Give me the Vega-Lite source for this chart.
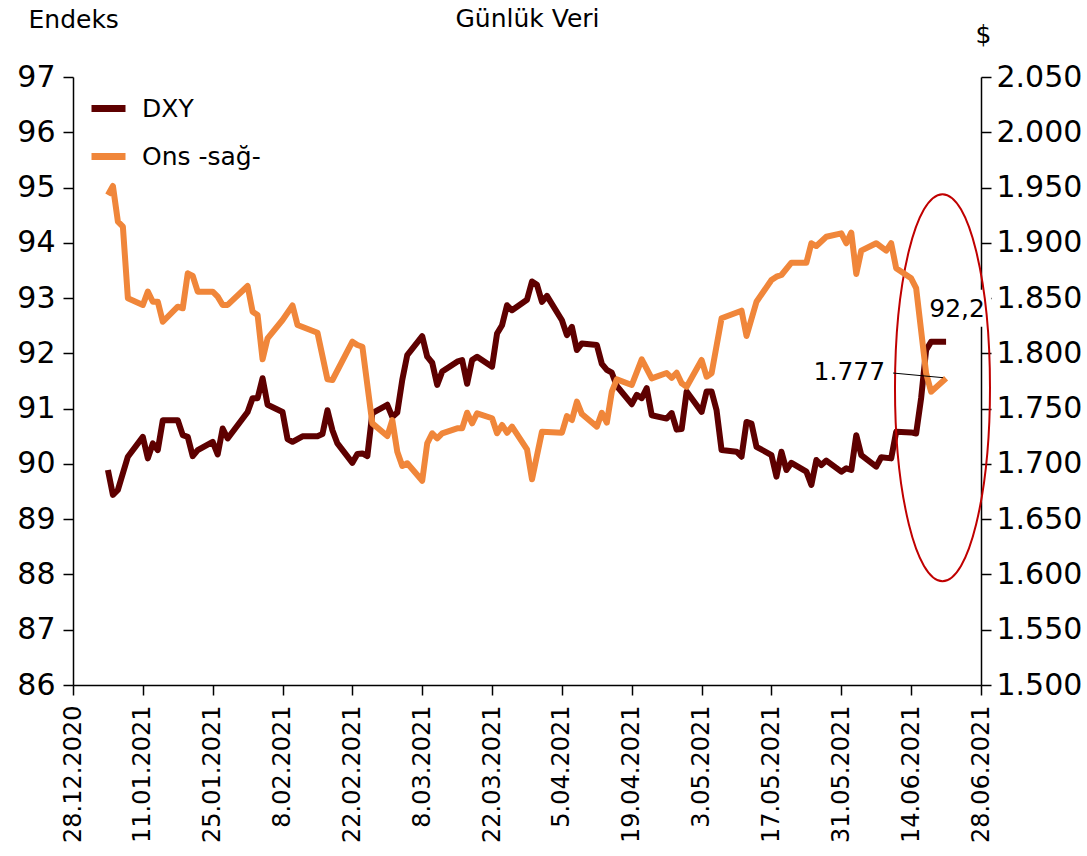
{
  "$schema": "https://vega.github.io/schema/vega-lite/v6.json",
  "width": 908,
  "height": 608,
  "autosize": {"type": "none"},
  "padding": {"left": 73, "top": 77, "right": 106, "bottom": 171},
  "background": "white",
  "config": {
    "view": {"stroke": null},
    "locale": {"number": {"decimal": ",", "thousands": ".", "grouping": [3], "currency": ["", ""]}},
    "font": "DejaVu Sans",
    "axis": {
      "grid": false,
      "domainColor": "black",
      "domainWidth": 1.5,
      "tickColor": "black",
      "tickWidth": 1.5,
      "tickSize": 10,
      "labelColor": "black",
      "labelFont": "DejaVu Sans",
      "titleFont": "DejaVu Sans",
      "titleFontWeight": "normal",
      "titleColor": "black"
    },
    "legend": {
      "orient": "none",
      "legendX": 15,
      "legendY": 11,
      "title": null,
      "symbolType": "stroke",
      "symbolSize": 1156,
      "symbolStrokeWidth": 7,
      "labelFont": "DejaVu Sans",
      "labelFontSize": 25,
      "labelColor": "black",
      "labelOffset": 13,
      "rowPadding": 13,
      "labelLimit": 400
    }
  },
  "datasets": {
    "dxy": [
      {"date": "2021-01-04T00:00", "v": 89.89},
      {"date": "2021-01-05T00:00", "v": 89.44},
      {"date": "2021-01-06T00:00", "v": 89.53},
      {"date": "2021-01-08T00:00", "v": 90.13},
      {"date": "2021-01-11T00:00", "v": 90.49},
      {"date": "2021-01-12T00:00", "v": 90.10},
      {"date": "2021-01-13T00:00", "v": 90.37},
      {"date": "2021-01-14T00:00", "v": 90.25},
      {"date": "2021-01-15T00:00", "v": 90.79},
      {"date": "2021-01-18T00:00", "v": 90.79},
      {"date": "2021-01-19T00:00", "v": 90.52},
      {"date": "2021-01-20T00:00", "v": 90.49},
      {"date": "2021-01-21T00:00", "v": 90.14},
      {"date": "2021-01-22T00:00", "v": 90.25},
      {"date": "2021-01-25T00:00", "v": 90.40},
      {"date": "2021-01-26T00:00", "v": 90.17},
      {"date": "2021-01-27T00:00", "v": 90.64},
      {"date": "2021-01-28T00:00", "v": 90.46},
      {"date": "2021-02-01T00:00", "v": 90.94},
      {"date": "2021-02-02T00:00", "v": 91.19},
      {"date": "2021-02-03T00:00", "v": 91.19},
      {"date": "2021-02-04T00:00", "v": 91.55},
      {"date": "2021-02-05T00:00", "v": 91.07},
      {"date": "2021-02-08T00:00", "v": 90.94},
      {"date": "2021-02-09T00:00", "v": 90.45},
      {"date": "2021-02-10T00:00", "v": 90.40},
      {"date": "2021-02-12T00:00", "v": 90.50},
      {"date": "2021-02-15T00:00", "v": 90.50},
      {"date": "2021-02-16T00:00", "v": 90.54},
      {"date": "2021-02-17T00:00", "v": 90.97},
      {"date": "2021-02-18T00:00", "v": 90.61},
      {"date": "2021-02-19T00:00", "v": 90.37},
      {"date": "2021-02-22T00:00", "v": 90.02},
      {"date": "2021-02-23T00:00", "v": 90.18},
      {"date": "2021-02-24T00:00", "v": 90.19},
      {"date": "2021-02-25T00:00", "v": 90.14},
      {"date": "2021-02-26T00:00", "v": 90.92},
      {"date": "2021-03-01T00:00", "v": 91.07},
      {"date": "2021-03-02T00:00", "v": 90.85},
      {"date": "2021-03-03T00:00", "v": 90.93},
      {"date": "2021-03-04T00:00", "v": 91.52},
      {"date": "2021-03-05T00:00", "v": 91.97},
      {"date": "2021-03-08T00:00", "v": 92.31},
      {"date": "2021-03-09T00:00", "v": 91.94},
      {"date": "2021-03-10T00:00", "v": 91.83},
      {"date": "2021-03-11T00:00", "v": 91.43},
      {"date": "2021-03-12T00:00", "v": 91.67},
      {"date": "2021-03-15T00:00", "v": 91.85},
      {"date": "2021-03-16T00:00", "v": 91.88},
      {"date": "2021-03-17T00:00", "v": 91.45},
      {"date": "2021-03-18T00:00", "v": 91.88},
      {"date": "2021-03-19T00:00", "v": 91.94},
      {"date": "2021-03-22T00:00", "v": 91.76},
      {"date": "2021-03-23T00:00", "v": 92.36},
      {"date": "2021-03-24T00:00", "v": 92.51},
      {"date": "2021-03-25T00:00", "v": 92.87},
      {"date": "2021-03-26T00:00", "v": 92.78},
      {"date": "2021-03-29T00:00", "v": 92.97},
      {"date": "2021-03-30T00:00", "v": 93.30},
      {"date": "2021-03-31T00:00", "v": 93.24},
      {"date": "2021-04-01T00:00", "v": 92.93},
      {"date": "2021-04-02T00:00", "v": 93.04},
      {"date": "2021-04-05T00:00", "v": 92.60},
      {"date": "2021-04-06T00:00", "v": 92.33},
      {"date": "2021-04-07T00:00", "v": 92.48},
      {"date": "2021-04-08T00:00", "v": 92.06},
      {"date": "2021-04-09T00:00", "v": 92.18},
      {"date": "2021-04-12T00:00", "v": 92.15},
      {"date": "2021-04-13T00:00", "v": 91.81},
      {"date": "2021-04-14T00:00", "v": 91.70},
      {"date": "2021-04-15T00:00", "v": 91.65},
      {"date": "2021-04-16T00:00", "v": 91.41},
      {"date": "2021-04-19T00:00", "v": 91.08},
      {"date": "2021-04-20T00:00", "v": 91.25},
      {"date": "2021-04-21T00:00", "v": 91.19},
      {"date": "2021-04-22T00:00", "v": 91.37},
      {"date": "2021-04-23T00:00", "v": 90.88},
      {"date": "2021-04-26T00:00", "v": 90.82},
      {"date": "2021-04-27T00:00", "v": 90.92},
      {"date": "2021-04-28T00:00", "v": 90.62},
      {"date": "2021-04-29T00:00", "v": 90.63},
      {"date": "2021-04-30T00:00", "v": 91.31},
      {"date": "2021-05-03T00:00", "v": 90.94},
      {"date": "2021-05-04T00:00", "v": 91.31},
      {"date": "2021-05-05T00:00", "v": 91.31},
      {"date": "2021-05-06T00:00", "v": 90.97},
      {"date": "2021-05-07T00:00", "v": 90.25},
      {"date": "2021-05-10T00:00", "v": 90.22},
      {"date": "2021-05-11T00:00", "v": 90.13},
      {"date": "2021-05-12T00:00", "v": 90.76},
      {"date": "2021-05-13T00:00", "v": 90.73},
      {"date": "2021-05-14T00:00", "v": 90.31},
      {"date": "2021-05-17T00:00", "v": 90.16},
      {"date": "2021-05-18T00:00", "v": 89.77},
      {"date": "2021-05-19T00:00", "v": 90.22},
      {"date": "2021-05-20T00:00", "v": 89.89},
      {"date": "2021-05-21T00:00", "v": 90.02},
      {"date": "2021-05-24T00:00", "v": 89.86},
      {"date": "2021-05-25T00:00", "v": 89.62},
      {"date": "2021-05-26T00:00", "v": 90.07},
      {"date": "2021-05-27T00:00", "v": 89.98},
      {"date": "2021-05-28T00:00", "v": 90.06},
      {"date": "2021-05-31T00:00", "v": 89.86},
      {"date": "2021-06-01T00:00", "v": 89.92},
      {"date": "2021-06-02T00:00", "v": 89.89},
      {"date": "2021-06-03T00:00", "v": 90.52},
      {"date": "2021-06-04T00:00", "v": 90.16},
      {"date": "2021-06-07T00:00", "v": 89.95},
      {"date": "2021-06-08T00:00", "v": 90.12},
      {"date": "2021-06-10T00:00", "v": 90.10},
      {"date": "2021-06-11T00:00", "v": 90.58},
      {"date": "2021-06-14T00:00", "v": 90.57},
      {"date": "2021-06-15T00:00", "v": 90.55},
      {"date": "2021-06-16T00:00", "v": 91.19},
      {"date": "2021-06-17T00:00", "v": 92.06},
      {"date": "2021-06-18T00:00", "v": 92.21},
      {"date": "2021-06-21T00:00", "v": 92.21}
    ],
    "ons": [
      {"date": "2021-01-04T00:00", "v": 1943.3},
      {"date": "2021-01-05T00:00", "v": 1951.4},
      {"date": "2021-01-06T00:00", "v": 1919.1},
      {"date": "2021-01-07T00:00", "v": 1914.6},
      {"date": "2021-01-08T00:00", "v": 1849.8},
      {"date": "2021-01-11T00:00", "v": 1843.8},
      {"date": "2021-01-12T00:00", "v": 1855.8},
      {"date": "2021-01-13T00:00", "v": 1846.7},
      {"date": "2021-01-14T00:00", "v": 1846.7},
      {"date": "2021-01-15T00:00", "v": 1828.6},
      {"date": "2021-01-18T00:00", "v": 1842.2},
      {"date": "2021-01-19T00:00", "v": 1840.8},
      {"date": "2021-01-20T00:00", "v": 1872.4},
      {"date": "2021-01-21T00:00", "v": 1870.0},
      {"date": "2021-01-22T00:00", "v": 1855.8},
      {"date": "2021-01-25T00:00", "v": 1855.8},
      {"date": "2021-01-26T00:00", "v": 1851.3},
      {"date": "2021-01-27T00:00", "v": 1843.8},
      {"date": "2021-01-28T00:00", "v": 1843.8},
      {"date": "2021-02-01T00:00", "v": 1860.9},
      {"date": "2021-02-02T00:00", "v": 1837.7},
      {"date": "2021-02-03T00:00", "v": 1834.7},
      {"date": "2021-02-04T00:00", "v": 1794.6},
      {"date": "2021-02-05T00:00", "v": 1813.6},
      {"date": "2021-02-08T00:00", "v": 1830.2},
      {"date": "2021-02-10T00:00", "v": 1843.3},
      {"date": "2021-02-11T00:00", "v": 1825.7},
      {"date": "2021-02-15T00:00", "v": 1818.7},
      {"date": "2021-02-17T00:00", "v": 1776.5},
      {"date": "2021-02-18T00:00", "v": 1775.9},
      {"date": "2021-02-22T00:00", "v": 1810.6},
      {"date": "2021-02-23T00:00", "v": 1807.6},
      {"date": "2021-02-24T00:00", "v": 1806.0},
      {"date": "2021-02-26T00:00", "v": 1736.7},
      {"date": "2021-03-01T00:00", "v": 1725.2},
      {"date": "2021-03-02T00:00", "v": 1739.7},
      {"date": "2021-03-03T00:00", "v": 1711.0},
      {"date": "2021-03-04T00:00", "v": 1698.1},
      {"date": "2021-03-05T00:00", "v": 1700.6},
      {"date": "2021-03-08T00:00", "v": 1684.8},
      {"date": "2021-03-09T00:00", "v": 1718.6},
      {"date": "2021-03-10T00:00", "v": 1727.7},
      {"date": "2021-03-11T00:00", "v": 1723.2},
      {"date": "2021-03-12T00:00", "v": 1727.7},
      {"date": "2021-03-15T00:00", "v": 1732.2},
      {"date": "2021-03-16T00:00", "v": 1732.2},
      {"date": "2021-03-17T00:00", "v": 1746.3},
      {"date": "2021-03-18T00:00", "v": 1736.7},
      {"date": "2021-03-19T00:00", "v": 1745.8},
      {"date": "2021-03-22T00:00", "v": 1741.3},
      {"date": "2021-03-23T00:00", "v": 1727.7},
      {"date": "2021-03-24T00:00", "v": 1735.2},
      {"date": "2021-03-25T00:00", "v": 1728.2},
      {"date": "2021-03-26T00:00", "v": 1733.7},
      {"date": "2021-03-29T00:00", "v": 1713.2},
      {"date": "2021-03-30T00:00", "v": 1686.1},
      {"date": "2021-04-01T00:00", "v": 1729.1},
      {"date": "2021-04-05T00:00", "v": 1728.2},
      {"date": "2021-04-06T00:00", "v": 1743.3},
      {"date": "2021-04-07T00:00", "v": 1739.7},
      {"date": "2021-04-08T00:00", "v": 1756.3},
      {"date": "2021-04-09T00:00", "v": 1745.1},
      {"date": "2021-04-12T00:00", "v": 1733.7},
      {"date": "2021-04-13T00:00", "v": 1746.3},
      {"date": "2021-04-14T00:00", "v": 1737.3},
      {"date": "2021-04-15T00:00", "v": 1765.3},
      {"date": "2021-04-16T00:00", "v": 1776.5},
      {"date": "2021-04-19T00:00", "v": 1771.4},
      {"date": "2021-04-21T00:00", "v": 1794.6},
      {"date": "2021-04-23T00:00", "v": 1777.4},
      {"date": "2021-04-26T00:00", "v": 1782.2},
      {"date": "2021-04-27T00:00", "v": 1777.8},
      {"date": "2021-04-28T00:00", "v": 1782.5},
      {"date": "2021-04-29T00:00", "v": 1772.9},
      {"date": "2021-04-30T00:00", "v": 1769.8},
      {"date": "2021-05-03T00:00", "v": 1794.0},
      {"date": "2021-05-04T00:00", "v": 1778.9},
      {"date": "2021-05-05T00:00", "v": 1782.0},
      {"date": "2021-05-07T00:00", "v": 1831.7},
      {"date": "2021-05-11T00:00", "v": 1838.6},
      {"date": "2021-05-12T00:00", "v": 1815.7},
      {"date": "2021-05-14T00:00", "v": 1846.7},
      {"date": "2021-05-17T00:00", "v": 1866.4},
      {"date": "2021-05-18T00:00", "v": 1869.4},
      {"date": "2021-05-19T00:00", "v": 1870.9},
      {"date": "2021-05-21T00:00", "v": 1882.0},
      {"date": "2021-05-24T00:00", "v": 1882.0},
      {"date": "2021-05-25T00:00", "v": 1899.6},
      {"date": "2021-05-26T00:00", "v": 1897.1},
      {"date": "2021-05-28T00:00", "v": 1905.5},
      {"date": "2021-05-31T00:00", "v": 1908.6},
      {"date": "2021-06-01T00:00", "v": 1899.6},
      {"date": "2021-06-02T00:00", "v": 1909.2},
      {"date": "2021-06-03T00:00", "v": 1871.8},
      {"date": "2021-06-04T00:00", "v": 1892.9},
      {"date": "2021-06-07T00:00", "v": 1899.6},
      {"date": "2021-06-09T00:00", "v": 1892.9},
      {"date": "2021-06-10T00:00", "v": 1899.6},
      {"date": "2021-06-11T00:00", "v": 1877.0},
      {"date": "2021-06-14T00:00", "v": 1867.9},
      {"date": "2021-06-15T00:00", "v": 1859.1},
      {"date": "2021-06-17T00:00", "v": 1782.0},
      {"date": "2021-06-18T00:00", "v": 1765.3},
      {"date": "2021-06-21T00:00", "v": 1777.4}
    ],
    "boxA": [{"date": "2021-06-18T14:00", "date2": "2021-06-30T00:00", "v": 92.48, "v2": 93.15}],
    "labelA": [{"date": "2021-06-23T05:00", "v": 92.8, "label": "92,2"}],
    "ellipse": [{"date": "2021-06-20T06:45", "v": 91.38}],
    "leader": [{"date": "2021-06-10T09:00", "v": 1782.2, "date2": "2021-06-20T09:30", "v2": 1778.0}],
    "labelB": [{"date": "2021-06-08T19:00", "v": 1783.1, "label": "1.777"}]
  },
  "encoding": {
    "x": {
      "field": "date",
      "type": "temporal",
      "scale": {"domain": [{"year": 2020, "month": 12, "date": 28}, {"year": 2021, "month": 6, "date": 28}], "nice": false},
      "axis": {
        "values": [
          {"year": 2020, "month": 12, "date": 28},
          {"year": 2021, "month": 1, "date": 11},
          {"year": 2021, "month": 1, "date": 25},
          {"year": 2021, "month": 2, "date": 8},
          {"year": 2021, "month": 2, "date": 22},
          {"year": 2021, "month": 3, "date": 8},
          {"year": 2021, "month": 3, "date": 22},
          {"year": 2021, "month": 4, "date": 5},
          {"year": 2021, "month": 4, "date": 19},
          {"year": 2021, "month": 5, "date": 3},
          {"year": 2021, "month": 5, "date": 17},
          {"year": 2021, "month": 5, "date": 31},
          {"year": 2021, "month": 6, "date": 14},
          {"year": 2021, "month": 6, "date": 28}
        ],
        "format": "%-d.%m.%Y",
        "labelAngle": -90,
        "labelAlign": "right",
        "labelBaseline": "middle",
        "labelFontSize": 24,
        "labelPadding": 10,
        "labelOverlap": false,
        "labelFlush": false,
        "title": "Günlük Veri",
        "titleAngle": 0,
        "titleAlign": "center",
        "titleBaseline": "alphabetic",
        "titleX": 454,
        "titleY": -659,
        "titleFontSize": 25
      }
    }
  },
  "layer": [
    {
      "encoding": {
        "y": {
          "field": "v",
          "type": "quantitative",
          "scale": {"domain": [86, 97], "nice": false},
          "axis": {
            "values": [86, 87, 88, 89, 90, 91, 92, 93, 94, 95, 96, 97],
            "format": "d",
            "labelFontSize": 30,
            "labelPadding": 8,
            "title": "Endeks",
            "titleAngle": 0,
            "titleAlign": "left",
            "titleBaseline": "alphabetic",
            "titleX": -45,
            "titleY": -50,
            "titleFontSize": 25
          }
        }
      },
      "layer": [
        {
          "data": {"name": "boxA"},
          "mark": {"type": "rect", "color": "white"},
          "encoding": {"x2": {"field": "date2"}, "y2": {"field": "v2"}}
        },
        {
          "data": {"name": "dxy"},
          "mark": {"type": "line", "strokeWidth": 6, "strokeJoin": "round"},
          "encoding": {
            "color": {"datum": "DXY", "type": "nominal", "scale": {"domain": ["DXY", "Ons -sağ-"], "range": ["#5E0000", "#F0863A"]}}
          }
        },
        {
          "data": {"name": "labelA"},
          "mark": {"type": "text", "align": "center", "baseline": "middle", "fontSize": 25, "font": "DejaVu Sans", "color": "black"},
          "encoding": {"text": {"field": "label"}}
        },
        {
          "data": {"name": "ellipse"},
          "mark": {"type": "point", "shape": "M 0 -1 A 0.2455 1 0 1 1 0 1 A 0.2455 1 0 1 1 0 -1 Z", "size": 149769, "filled": false, "color": "#C00000", "strokeWidth": 2, "opacity": 1}
        }
      ]
    },
    {
      "encoding": {
        "y": {
          "field": "v",
          "type": "quantitative",
          "scale": {"domain": [1500, 2050], "nice": false},
          "axis": {
            "orient": "right",
            "values": [1500, 1550, 1600, 1650, 1700, 1750, 1800, 1850, 1900, 1950, 2000, 2050],
            "format": ",d",
            "labelFontSize": 30,
            "labelPadding": 5,
            "title": "$",
            "titleAngle": 0,
            "titleAlign": "center",
            "titleBaseline": "alphabetic",
            "titleX": 2,
            "titleY": -35,
            "titleFontSize": 25
          }
        }
      },
      "layer": [
        {
          "data": {"name": "ons"},
          "mark": {"type": "line", "strokeWidth": 6, "strokeJoin": "round"},
          "encoding": {
            "color": {"datum": "Ons -sağ-", "type": "nominal"}
          }
        },
        {
          "data": {"name": "leader"},
          "mark": {"type": "rule", "color": "black", "strokeWidth": 1},
          "encoding": {"x2": {"field": "date2"}, "y2": {"field": "v2"}}
        },
        {
          "data": {"name": "labelB"},
          "mark": {"type": "text", "align": "right", "baseline": "middle", "fontSize": 25, "font": "DejaVu Sans", "color": "black"},
          "encoding": {"text": {"field": "label"}}
        }
      ]
    }
  ],
  "resolve": {"scale": {"y": "independent"}}
}
